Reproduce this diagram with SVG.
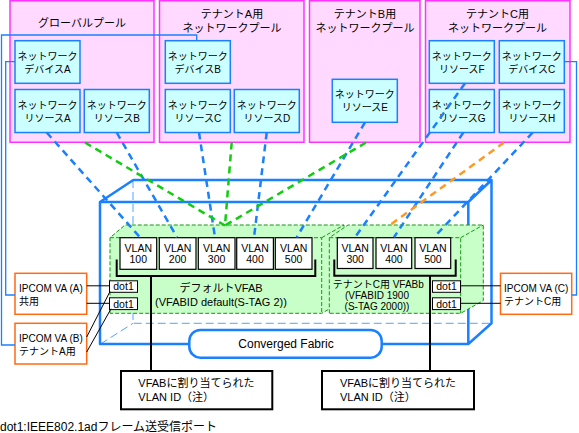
<svg xmlns="http://www.w3.org/2000/svg" width="579" height="433" viewBox="0 0 579 433">
<defs>
<style>
text{font-family:"Liberation Sans","Noto Sans CJK JP",sans-serif;fill:#000}
.pool{fill:#ffd9ff;stroke:#ff33ff;stroke-width:1.5}
.res{fill:#ccffff;stroke:#1a80ff;stroke-width:1.5}
.t10{font-size:10px;text-anchor:middle}
.t11{font-size:11px;text-anchor:middle}
.ipc{fill:#fff;stroke:#ff6a13;stroke-width:1.5}
.frame{fill:none;stroke:#1a80ff;stroke-width:2.5;stroke-linejoin:round}
.hid{fill:none;stroke:#4da6ff;stroke-width:1;stroke-dasharray:8 4}
.vfab{fill:#c8ffc8;stroke:#119911;stroke-width:1;stroke-dasharray:4 2}
.vedge{fill:none;stroke:#119911;stroke-width:1;stroke-dasharray:4 2}
.vlan{fill:#fff;stroke:#000;stroke-width:1.2}
.dot{fill:#fff;stroke:#000;stroke-width:1}
.blk{fill:none;stroke:#000;stroke-width:2}
.thin{fill:none;stroke:#000;stroke-width:1}
.dev{fill:none;stroke:#1a80ff;stroke-width:1.3}
.cb{fill:none;stroke:#1a80ff;stroke-width:2.5;stroke-dasharray:7 5}
.cg{fill:none;stroke:#11cc11;stroke-width:2.5;stroke-dasharray:7 5}
.co{fill:none;stroke:#ff9922;stroke-width:2.5;stroke-dasharray:7 5}
.vt{font-size:10.5px;text-anchor:middle}
.ct{font-size:10px}
</style>
</defs>

<!-- Pools -->
<g id="pool-global"><rect class="pool" x="10" y="0.75" width="144" height="141.5"/><text class="t11" x="82" y="27">グローバルプール</text></g>
<g id="pool-a"><rect class="pool" x="159.5" y="0.75" width="144.5" height="141.5"/><text class="t11" x="232" y="18">テナントA用</text><text class="t11" x="232" y="31.5">ネットワークプール</text></g>
<g id="pool-b"><rect class="pool" x="309.5" y="0.75" width="110.5" height="141.5"/><text class="t11" x="365" y="18">テナントB用</text><text class="t11" x="365" y="31.5">ネットワークプール</text></g>
<g id="pool-c"><rect class="pool" x="425.5" y="0.75" width="144.5" height="141.5"/><text class="t11" x="497.5" y="18">テナントC用</text><text class="t11" x="497.5" y="31.5">ネットワークプール</text></g>

<!-- 3D fabric frame -->
<g id="fabric-frame">
<path class="hid" d="M133,180 V323.3 H491.5 M100.5,344 L133,323.3"/>
<path class="frame" d="M100,344 V202 H468.3 V344 Z M100,202 L133.3,180 H491.5 V323.3 L468.3,344 M468.3,202 L491.5,180"/>
</g>

<!-- VFAB areas -->
<g id="vfab-default">
<path class="vfab" d="M110,313.3 V237.7 L125,225 H344 V300.6 L321.7,313.3 Z"/>
<path class="vedge" d="M110,237.7 H321.7 V313.3 M321.7,237.7 L344,225"/>
<text class="t11" x="221" y="292.2">デフォルトVFAB</text>
<text class="t11" x="221" y="305.6">(VFABID default(S-TAG 2))</text>
</g>
<g id="vfab-c">
<path class="vfab" d="M329.3,313.3 V237.7 L348,225 H483.3 V300.6 L460.7,313.3 Z"/>
<path class="vedge" d="M329.3,237.7 H460.7 V313.3 M460.7,237.7 L483.3,225"/>
<text class="ct" x="332.7" y="287.5">テナントC用  VFABb</text>
<text class="ct" x="377" y="298.5" text-anchor="middle">(VFABID 1900</text>
<text class="ct" x="377" y="309.5" text-anchor="middle">(S-TAG 2000))</text>
</g>

<!-- Converged Fabric -->
<g id="converged-fabric">
<rect x="189.3" y="330" width="192.4" height="27.7" rx="11" fill="#fff" stroke="#1a80ff" stroke-width="2.5"/>
<text x="286" y="348" style="font-size:12px;text-anchor:middle">Converged Fabric</text>
</g>

<!-- Resource boxes -->
<g id="dev-a"><rect class="res" x="15" y="40.7" width="65" height="42.6"/><text class="t10" x="47.5" y="59.5">ネットワーク</text><text class="t10" x="47.5" y="72.5">デバイスA</text></g>
<g id="res-a"><rect class="res" x="15" y="89.5" width="65" height="43"/><text class="t10" x="47.5" y="108.5">ネットワーク</text><text class="t10" x="47.5" y="121.5">リソースA</text></g>
<g id="res-b"><rect class="res" x="84.3" y="89.5" width="65" height="43"/><text class="t10" x="116.8" y="108.5">ネットワーク</text><text class="t10" x="116.8" y="121.5">リソースB</text></g>
<g id="dev-b"><rect class="res" x="165.3" y="40.7" width="65" height="42.6"/><text class="t10" x="197.8" y="59.5">ネットワーク</text><text class="t10" x="197.8" y="72.5">デバイスB</text></g>
<g id="res-c"><rect class="res" x="165.3" y="89.5" width="65" height="43"/><text class="t10" x="197.8" y="108.5">ネットワーク</text><text class="t10" x="197.8" y="121.5">リソースC</text></g>
<g id="res-d"><rect class="res" x="234.3" y="89.5" width="65" height="43"/><text class="t10" x="266.8" y="108.5">ネットワーク</text><text class="t10" x="266.8" y="121.5">リソースD</text></g>
<g id="res-e"><rect class="res" x="332.3" y="79.3" width="65" height="43"/><text class="t10" x="364.8" y="98">ネットワーク</text><text class="t10" x="364.8" y="111">リソースE</text></g>
<g id="res-f"><rect class="res" x="429.3" y="40.7" width="65" height="42.6"/><text class="t10" x="461.8" y="59.5">ネットワーク</text><text class="t10" x="461.8" y="72.5">リソースF</text></g>
<g id="dev-c"><rect class="res" x="499.3" y="40.7" width="65" height="42.6"/><text class="t10" x="531.8" y="59.5">ネットワーク</text><text class="t10" x="531.8" y="72.5">デバイスC</text></g>
<g id="res-g"><rect class="res" x="429.3" y="89.5" width="65" height="43"/><text class="t10" x="461.8" y="108.5">ネットワーク</text><text class="t10" x="461.8" y="121.5">リソースG</text></g>
<g id="res-h"><rect class="res" x="499.3" y="89.5" width="65" height="43"/><text class="t10" x="531.8" y="108.5">ネットワーク</text><text class="t10" x="531.8" y="121.5">リソースH</text></g>

<!-- VLAN boxes -->
<g id="vlan-d100"><rect class="vlan" x="120" y="237.7" width="36.7" height="31.6"/><text class="vt" x="138.3" y="251.5">VLAN</text><text class="vt" x="138.3" y="263">100</text></g>
<g id="vlan-d200"><rect class="vlan" x="159.3" y="237.7" width="36.7" height="31.6"/><text class="vt" x="177.6" y="251.5">VLAN</text><text class="vt" x="177.6" y="263">200</text></g>
<g id="vlan-d300"><rect class="vlan" x="198.3" y="237.7" width="36.7" height="31.6"/><text class="vt" x="216.6" y="251.5">VLAN</text><text class="vt" x="216.6" y="263">300</text></g>
<g id="vlan-d400"><rect class="vlan" x="236.7" y="237.7" width="36.7" height="31.6"/><text class="vt" x="255" y="251.5">VLAN</text><text class="vt" x="255" y="263">400</text></g>
<g id="vlan-d500"><rect class="vlan" x="275.3" y="237.7" width="36.7" height="31.6"/><text class="vt" x="293.6" y="251.5">VLAN</text><text class="vt" x="293.6" y="263">500</text></g>
<g id="vlan-c300"><rect class="vlan" x="337.3" y="237.7" width="35.7" height="30.8"/><text class="vt" x="355.2" y="251.5">VLAN</text><text class="vt" x="355.2" y="263">300</text></g>
<g id="vlan-c400"><rect class="vlan" x="376" y="237.7" width="35.7" height="30.8"/><text class="vt" x="393.9" y="251.5">VLAN</text><text class="vt" x="393.9" y="263">400</text></g>
<g id="vlan-c500"><rect class="vlan" x="415" y="237.7" width="35.7" height="30.8"/><text class="vt" x="432.9" y="251.5">VLAN</text><text class="vt" x="432.9" y="263">500</text></g>

<!-- dot1 ports -->
<g id="dot1-l1"><rect class="dot" x="109.5" y="280.8" width="28" height="11.5"/><text class="vt" x="123.5" y="290.3">dot1</text></g>
<g id="dot1-l2"><rect class="dot" x="109.5" y="297.8" width="28" height="11.8"/><text class="vt" x="123.5" y="307.5">dot1</text></g>
<g id="dot1-r1"><rect class="dot" x="432.5" y="280.8" width="28" height="11.5"/><text class="vt" x="446.5" y="290.3">dot1</text></g>
<g id="dot1-r2"><rect class="dot" x="432.5" y="297.8" width="28" height="11.8"/><text class="vt" x="446.5" y="307.5">dot1</text></g>

<!-- IPCOM boxes -->
<g id="ipcom-a"><rect class="ipc" x="15" y="273.3" width="71.7" height="41"/><text class="ct" x="19" y="292">IPCOM VA (A)</text><text class="ct" x="19" y="304.5">共用</text></g>
<g id="ipcom-b"><rect class="ipc" x="15" y="323.3" width="71.7" height="40.7"/><text class="ct" x="19" y="342">IPCOM VA (B)</text><text class="ct" x="19" y="354.5">テナントA用</text></g>
<g id="ipcom-c"><rect class="ipc" x="500.5" y="273.3" width="71.2" height="41"/><text class="ct" x="504" y="292">IPCOM VA (C)</text><text class="ct" x="504" y="304.5">テナントC用</text></g>

<!-- Annotation boxes -->
<g id="note-1"><rect x="121" y="371" width="151.3" height="38.3" fill="#fff" stroke="#000" stroke-width="2"/><text x="138.3" y="387.3" style="font-size:11px">VFABに割り当てられた</text><text x="138.3" y="401.3" style="font-size:11px">VLAN ID（注）</text></g>
<g id="note-2"><rect x="322" y="371" width="152" height="38.3" fill="#fff" stroke="#000" stroke-width="2"/><text x="340" y="387.3" style="font-size:11px">VFABに割り当てられた</text><text x="340" y="401.3" style="font-size:11px">VLAN ID（注）</text></g>

<!-- Connectors -->
<g id="connectors">
<path class="dev" d="M15,61.7 H5.7 V295 H15"/>
<path class="dev" d="M196.7,40.7 V35 H1.5 V345 H15"/>
<path class="dev" d="M564.3,61.7 H576.5 V295 H571.7"/>
<path class="thin" d="M86.7,285.8 H109.5 M86.7,303.3 H109.5 M86.7,337 L110,291.5 M86.7,352 L111,308.8 M460.5,285.8 H500.5 M460.5,303.3 H500.5"/>
<path class="blk" d="M116.7,259.5 V276 H315.3 V259.5 M151,276 V371 M334.3,259.5 V275.7 H455.7 V259.5 M430,275.7 V371"/>
<path class="cb" d="M46.7,132.5 L140,237.3"/>
<path class="cb" d="M116.7,132.5 L177,237.3"/>
<path class="cb" d="M199,132.5 L215,237.3"/>
<path class="cb" d="M266.7,132.5 L254,237.3"/>
<path class="cb" d="M365,122.3 L296.7,237.3"/>
<path class="cb" d="M465,83.3 L355,237.3"/>
<path class="cb" d="M463.3,132.5 L394,237.3"/>
<path class="cb" d="M532.7,132.5 L434,237.3"/>
<path class="cg" d="M85,142.5 L225,225.5"/>
<path class="cg" d="M231.7,142.5 L225,225.5"/>
<path class="cg" d="M366,142.5 L225,225.5"/>
<path class="co" d="M504,142.5 L390,225"/>
</g>

<text x="0" y="431" style="font-size:12px">dot1:IEEE802.1adフレーム送受信ポート</text>
</svg>
